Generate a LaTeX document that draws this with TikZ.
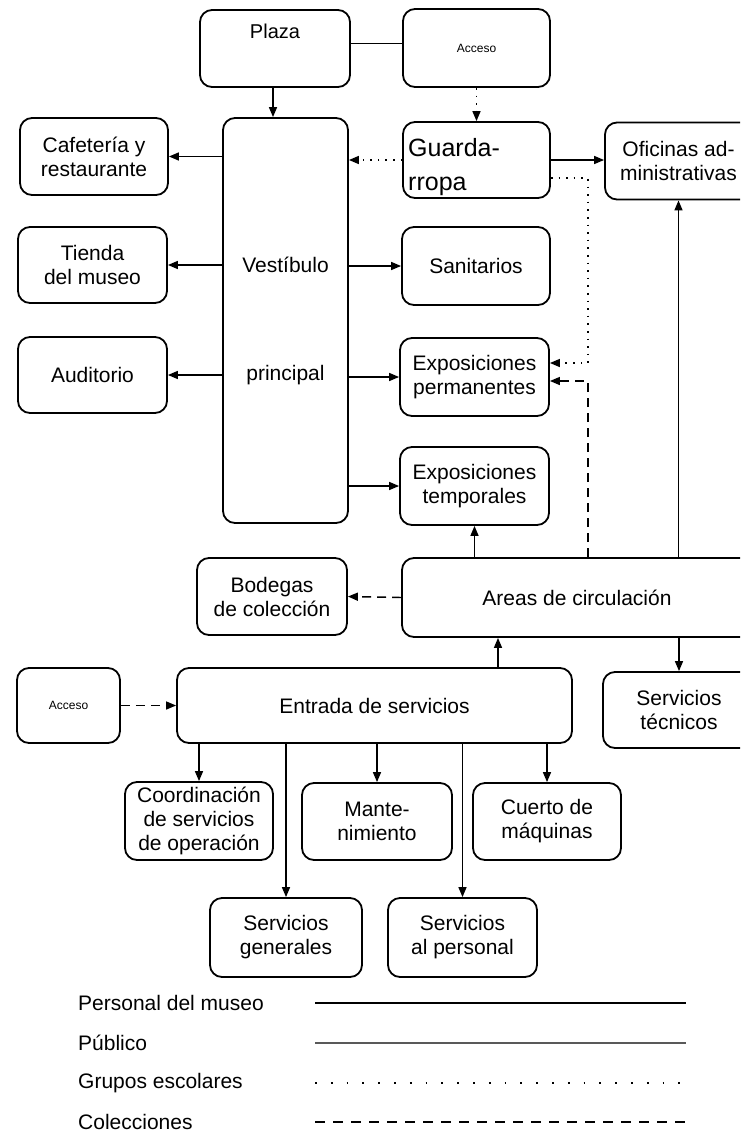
\documentclass[tikz,border=0pt]{standalone}
\usepackage{fontspec}
\setmainfont{Liberation Sans}
\usetikzlibrary{arrows.meta}
\begin{document}
\begin{tikzpicture}[x=1pt,y=-1pt,
  box/.style={draw, line width=1.8pt, rounded corners=12pt, align=center,
    font=\fontsize{21}{24}\selectfont, inner sep=2pt},
  small/.style={font=\fontsize{12}{14}\selectfont},
  lab/.style={inner sep=0pt, font=\fontsize{21}{24}\selectfont},
  conn/.style={line width=1.45pt, -{Triangle[length=10pt,width=8pt]}},
  plain/.style={line width=1.45pt},
  school/.style={conn, dash pattern=on 1.6pt off 6pt},
  coll/.style={conn, dash pattern=on 9pt off 6pt},
]
\useasboundingbox (0,0) rectangle (740,1133);
\begin{scope}
\clip (0,0) rectangle (740,1133);
% boxes
\node[box, minimum width=150pt, minimum height=77pt] (plaza) at (275,48.5) {};
\node[lab, font=\fontsize{20}{24}\selectfont] (plazatxt) at (275,31) {Plaza};
\node[box, small, minimum width=147pt, minimum height=78pt] (accesoA) at (476.5,48) {Acceso};
\node[box, minimum width=125pt, minimum height=405pt] (vest) at (285.5,320.5) {Vestíbulo\\[84pt]principal};
\node[box, minimum width=148pt, minimum height=77pt] (cafe) at (94,156.5) {Cafetería y\\restaurante};
\node[box, minimum width=147pt, minimum height=76pt] (guarda) at (476.5,160) {};
\node[lab, anchor=west, align=left, font=\fontsize{25}{34}\selectfont] (guardatxt) at (408,167) {Guarda-\\rropa};
\node[box, minimum width=147pt, minimum height=77pt] (ofic) at (678.5,161) {Oficinas ad-\\ministrativas};
\node[box, minimum width=149pt, minimum height=76pt] (tienda) at (92.5,265) {Tienda\\del museo};
\node[box, minimum width=148pt, minimum height=78pt] (sanit) at (476,266) {Sanitarios};
\node[box, minimum width=149pt, minimum height=76pt] (audit) at (92.5,375) {Auditorio};
\node[box, minimum width=149pt, minimum height=78pt] (expperm) at (474.5,377) {Exposiciones\\permanentes};
\node[box, minimum width=149pt, minimum height=78pt] (exptemp) at (474.5,486) {Exposiciones\\temporales};
\node[box, minimum width=150pt, minimum height=77pt] (bodegas) at (272,596.5) {Bodegas\\de colección};
\node[box, minimum width=356pt, minimum height=79pt] (areas) at (580,597.5) {\hspace*{-6pt}Areas de circulación};
\node[box, small, minimum width=103pt, minimum height=75pt] (accesoB) at (68.5,705.5) {Acceso};
\node[box, minimum width=395pt, minimum height=75pt] (entrada) at (374.5,705.5) {Entrada de servicios};
\node[box, minimum width=152pt, minimum height=76pt] (stec) at (679,710) {Servicios\\técnicos};
\node[box, minimum width=148pt, minimum height=78pt] (coord) at (199,821) {Coordinación\\de servicios\\de operación};
\node[box, minimum width=150pt, minimum height=77pt] (mant) at (377,821.5) {Mante-\\nimiento};
\node[box, minimum width=148pt, minimum height=77pt] (cuerto) at (547,821.5) {Cuerto de\\máquinas};
\node[box, minimum width=152pt, minimum height=79pt] (sgen) at (286,937.5) {Servicios\\generales};
\node[box, minimum width=149pt, minimum height=79pt] (spers) at (462.5,937.5) {Servicios\\al personal};

% helper coordinates
\coordinate (xp) at (273,0);
\coordinate (xcol) at (588,0);
\coordinate (xe) at (498,0);

% connectors
\draw[plain] ([yshift=5pt]plaza.east) -- ([yshift=5pt]plaza.east -| accesoA.west);
\draw[conn] (xp |- plaza.south) -- (xp |- vest.north);
\draw[school] (accesoA.south) -- (guarda.north);
\draw[conn] (vest.west |- cafe.east) -- (cafe.east);
\draw[school] (guarda.west) -- (guarda.west -| vest.east);
\draw[conn] (guarda.east) -- (guarda.east -| ofic.west);
\coordinate (g1) at ([yshift=-18pt]guarda.east);
\coordinate (e1) at ([yshift=14pt]expperm.east);
\coordinate (e2) at ([yshift=-4pt]expperm.east);
\draw[school] (g1) -- (g1 -| xcol) -- (xcol |- e1) -- (e1);
\draw[coll] (xcol |- areas.north) -- (xcol |- e2) -- (e2);
\draw[conn] (ofic.south |- areas.north) -- (ofic.south);
\draw[conn] (vest.west |- tienda.east) -- (tienda.east);
\draw[conn] (vest.east |- sanit.west) -- (sanit.west);
\draw[conn] (vest.west |- audit.east) -- (audit.east);
\draw[conn] (vest.east |- expperm.west) -- (expperm.west);
\draw[conn] (vest.east |- exptemp.west) -- (exptemp.west);
\draw[conn] (exptemp.south |- areas.north) -- (exptemp.south);
\draw[coll] (areas.west) -- (bodegas.east);
\draw[conn] (xe |- entrada.north) -- (xe |- areas.south);
\draw[conn] (stec.north |- areas.south) -- (stec.north);
\draw[coll] (accesoB.east) -- (entrada.west);
\draw[conn] (coord.north |- entrada.south) -- (coord.north);
\draw[conn] (sgen.north |- entrada.south) -- (sgen.north);
\draw[conn] (mant.north |- entrada.south) -- (mant.north);
\draw[conn] (spers.north |- entrada.south) -- (spers.north);
\draw[conn] (cuerto.north |- entrada.south) -- (cuerto.north);

% legend
\node[lab, anchor=west] (lg1) at (78,1003) {Personal del museo};
\node[lab, anchor=west] (lg2) at (78,1043) {Público};
\node[lab, anchor=west] (lg3) at (78,1083) {Grupos escolares};
\node[lab, anchor=west] (lg4) at (78,1122) {Colecciones};
\coordinate (la1) at (315,1003); \coordinate (lb1) at (686,1003);
\coordinate (la2) at (315,1043); \coordinate (lb2) at (686,1043);
\coordinate (la3) at (315,1083); \coordinate (lb3) at (686,1083);
\coordinate (la4) at (315,1122); \coordinate (lb4) at (686,1122);
\draw[line width=2.6pt] (la1) -- (lb1);
\draw[line width=2.4pt, black!65] (la2) -- (lb2);
\draw[line width=1.8pt, dash pattern=on 1.8pt off 14pt] (la3) -- (lb3);
\draw[line width=2.2pt, dash pattern=on 10pt off 8pt] (la4) -- (lb4);
\end{scope}
\end{tikzpicture}
\end{document}
